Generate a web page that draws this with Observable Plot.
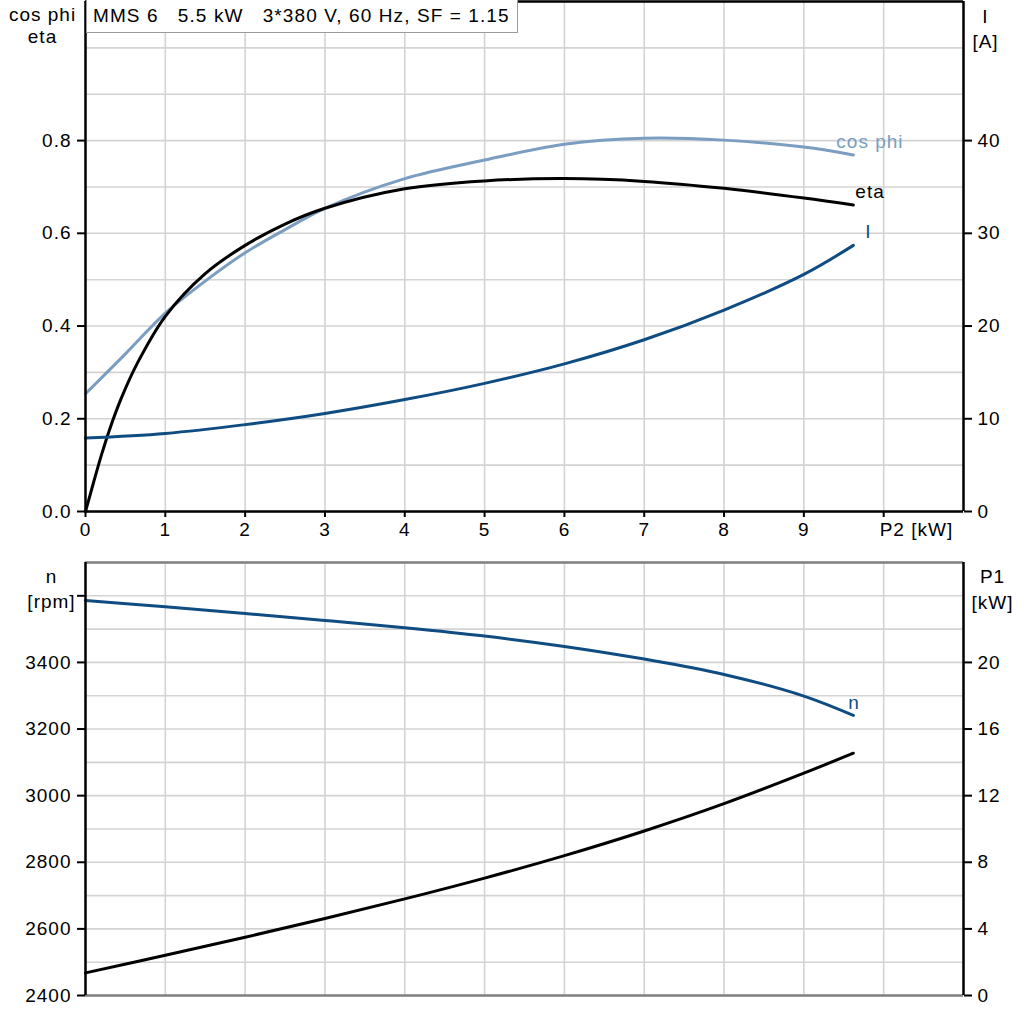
<!DOCTYPE html>
<html>
<head>
<meta charset="utf-8">
<script src="https://cdn.jsdelivr.net/npm/d3@7"></script>
<script src="https://cdn.jsdelivr.net/npm/@observablehq/plot@0.6"></script>
<style>
  html, body { margin: 0; padding: 0; background: white; }
  #wrap { position: relative; width: 1024px; height: 1024px; overflow: hidden; }
  #wrap svg { display: block; }
  #legend {
    position: absolute; left: 86px; top: 0px; width: 424px; height: 32px;
    border: 1px solid #9a9a9a; border-top: none; background: white;
    font-family: "Liberation Sans", Arial, sans-serif; font-size: 19px; letter-spacing: 1.1px;
    white-space: pre; line-height: 32px; padding-left: 6px; box-sizing: content-box; color: black;
  }
</style>
</head>
<body>
<div id="wrap"><div id="legend">MMS 6   5.5 kW   3*380 V, 60 Hz, SF = 1.15</div></div>
<script>
// ---------- data ----------
const P2_eta = [0, 0.1, 0.2, 0.3, 0.45, 0.65, 1, 1.5, 2, 2.5, 3, 4, 5, 6, 7, 8, 9, 9.62];
const eta    = [0, 0.062, 0.122, 0.176, 0.245, 0.320, 0.421, 0.513, 0.574, 0.620, 0.654, 0.696, 0.713, 0.718, 0.712, 0.697, 0.676, 0.661];

const P2_cos = [0, 0.5, 1, 1.5, 2, 2.5, 3, 4, 5, 6, 7, 8, 9, 9.62];
const cosphi = [0.254, 0.340, 0.428, 0.497, 0.558, 0.608, 0.654, 0.718, 0.758, 0.792, 0.805, 0.801, 0.786, 0.769];

const P2     = [0, 1, 2, 3, 4, 5, 6, 7, 8, 9, 9.62];
const I_A    = [7.92, 8.42, 9.37, 10.57, 12.07, 13.82, 15.92, 18.52, 21.72, 25.57, 28.7];
const n_rpm  = [3586, 3567, 3547, 3526, 3504, 3479, 3448, 3410, 3364, 3299, 3241];
const P1_kW  = [1.36, 2.42, 3.50, 4.62, 5.80, 7.05, 8.40, 9.88, 11.52, 13.35, 14.55];

const xTicks     = [0, 1, 2, 3, 4, 5, 6, 7, 8, 9, 10];
const effTicks   = [0, 0.2, 0.4, 0.6, 0.8];
const ampTicks   = [0, 10, 20, 30, 40];
const rpmTicks   = [2400, 2600, 2800, 3000, 3200, 3400, 3600];
const p1Ticks    = [0, 4, 8, 12, 16, 20];

const legendText = "MMS 6   5.5 kW   3*380 V, 60 Hz, SF = 1.15";
const xLabel = "P2 [kW]";

// ---------- styling ----------
const cLight = "#7a9dc1";
const cDark  = "#0e4c82";
const cGrid  = "#d3d3d3";
const font = "'Liberation Sans', Arial, sans-serif";
const AMP_SCALE = 50;   // 0.2 eta <-> 10 A
const P1_SCALE = 50;    // 200 rpm <-> 4 kW
const RPM0 = 2400;
const CURVE = "catmull-rom";

const etaData = P2_eta.map((x, i) => ({x, v: eta[i]}));
const cosData = P2_cos.map((x, i) => ({x, v: cosphi[i]}));
const iData   = P2.map((x, i) => ({x, v: I_A[i] / AMP_SCALE}));
const nData   = P2.map((x, i) => ({x, v: n_rpm[i]}));
const p1Data  = P2.map((x, i) => ({x, v: RPM0 + P1_kW[i] * P1_SCALE}));
const lastOf = a => [a[a.length - 1]];

const common = {
  width: 1024,
  marginLeft: 85,
  marginRight: 61,
  style: {fontFamily: font, fontSize: "19px", color: "black", background: "white", letterSpacing: "1px", overflow: "visible"}
};

const topChart = Plot.plot({
  ...common,
  height: 548,
  marginTop: 1,
  marginBottom: 37,
  x: {domain: [0, 11]},
  y: {domain: [0, 1.1]},
  marks: [
    Plot.gridX(d3.range(0, 12), {stroke: cGrid, strokeOpacity: 1, strokeWidth: 1.6}),
    Plot.gridY(d3.range(0, 12).map(i => i / 10), {stroke: cGrid, strokeOpacity: 1, strokeWidth: 1.6}),
    Plot.line(cosData, {x: "x", y: "v", stroke: cLight, strokeWidth: 3, curve: CURVE}),
    Plot.line(etaData, {x: "x", y: "v", stroke: "black", strokeWidth: 3, curve: CURVE}),
    Plot.line(iData, {x: "x", y: "v", stroke: cDark, strokeWidth: 3, curve: CURVE}),
    Plot.text(lastOf(cosData), {x: "x", y: "v", text: () => "cos phi", fill: cLight, textAnchor: "start", lineAnchor: "bottom", dx: -17, dy: -7, fontSize: 19}),
    Plot.text(lastOf(etaData), {x: "x", y: "v", text: () => "eta", fill: "black", textAnchor: "start", lineAnchor: "bottom", dx: 2, dy: -7, fontSize: 19}),
    Plot.text(lastOf(iData), {x: "x", y: "v", text: () => "I", fill: cDark, textAnchor: "start", lineAnchor: "bottom", dx: 12, dy: -7, fontSize: 19}),
    Plot.ruleX([0, 11], {stroke: "black", strokeWidth: 2.5}),
    Plot.ruleY([0, 1.1], {stroke: "black", strokeWidth: 2.5}),
    Plot.axisY(effTicks, {anchor: "left", tickSize: 8, tickPadding: 6, strokeWidth: 2, tickFormat: d3.format(".1f"), label: null}),
    Plot.axisY(ampTicks.map(t => t / AMP_SCALE), {anchor: "right", tickSize: 8, tickPadding: 6, strokeWidth: 2, tickFormat: d => String(Math.round(d * AMP_SCALE)), label: null}),
    Plot.axisX(xTicks, {anchor: "bottom", tickSize: 6, tickPadding: 5, strokeWidth: 2, tickFormat: d => d === 10 ? "" : String(d), label: null}),
    Plot.text([10], {x: d => d, frameAnchor: "bottom", text: () => xLabel, textAnchor: "start", lineAnchor: "top", dx: -4, dy: 11, fontSize: 19}),
    Plot.text(["cos phi\neta"], {frameAnchor: "top-left", text: d => d, textAnchor: "middle", lineAnchor: "top", dx: -43, dy: 3, lineHeight: 1.2, fontSize: 19}),
    Plot.text(["I\n[A]"], {frameAnchor: "top-right", text: d => d, textAnchor: "middle", lineAnchor: "top", dx: 22, dy: 3, lineHeight: 1.35, fontSize: 19})
  ]
});

const bottomChart = Plot.plot({
  ...common,
  height: 476,
  marginTop: 14,
  marginBottom: 29,
  x: {domain: [0, 11], axis: null},
  y: {domain: [2400, 3700]},
  marks: [
    Plot.gridX(d3.range(0, 12), {stroke: cGrid, strokeOpacity: 1, strokeWidth: 1.6}),
    Plot.gridY(d3.range(2400, 3701, 100), {stroke: cGrid, strokeOpacity: 1, strokeWidth: 1.6}),
    Plot.line(nData, {x: "x", y: "v", stroke: cDark, strokeWidth: 3, curve: CURVE}),
    Plot.line(p1Data, {x: "x", y: "v", stroke: "black", strokeWidth: 3, curve: CURVE}),
    Plot.text(lastOf(nData), {x: "x", y: "v", text: () => "n", fill: cDark, textAnchor: "start", lineAnchor: "bottom", dx: -5, dy: -6, fontSize: 19}),
    Plot.ruleY([2400, 3700], {stroke: "#808080", strokeWidth: 2.5}),
    Plot.ruleX([0, 11], {stroke: "black", strokeWidth: 2.5}),
    Plot.axisY(rpmTicks, {anchor: "left", tickSize: 8, tickPadding: 6, strokeWidth: 2, tickFormat: d => d === 3600 ? "" : String(d), label: null}),
    Plot.axisY(p1Ticks.map(t => RPM0 + t * P1_SCALE), {anchor: "right", tickSize: 8, tickPadding: 6, strokeWidth: 2, tickFormat: d => String(Math.round((d - RPM0) / P1_SCALE)), label: null}),
    Plot.text(["n\n[rpm]"], {frameAnchor: "top-left", text: d => d, textAnchor: "middle", lineAnchor: "top", dx: -34, dy: 3, lineHeight: 1.32, fontSize: 19}),
    Plot.text(["P1\n[kW]"], {frameAnchor: "top-right", text: d => d, textAnchor: "middle", lineAnchor: "top", dx: 29, dy: 2, lineHeight: 1.38, fontSize: 19})
  ]
});

const wrap = document.getElementById("wrap");
const legendDiv = document.getElementById("legend");
wrap.insertBefore(topChart, legendDiv);
wrap.insertBefore(bottomChart, legendDiv);
legendDiv.textContent = legendText;
</script>
</body>
</html>
